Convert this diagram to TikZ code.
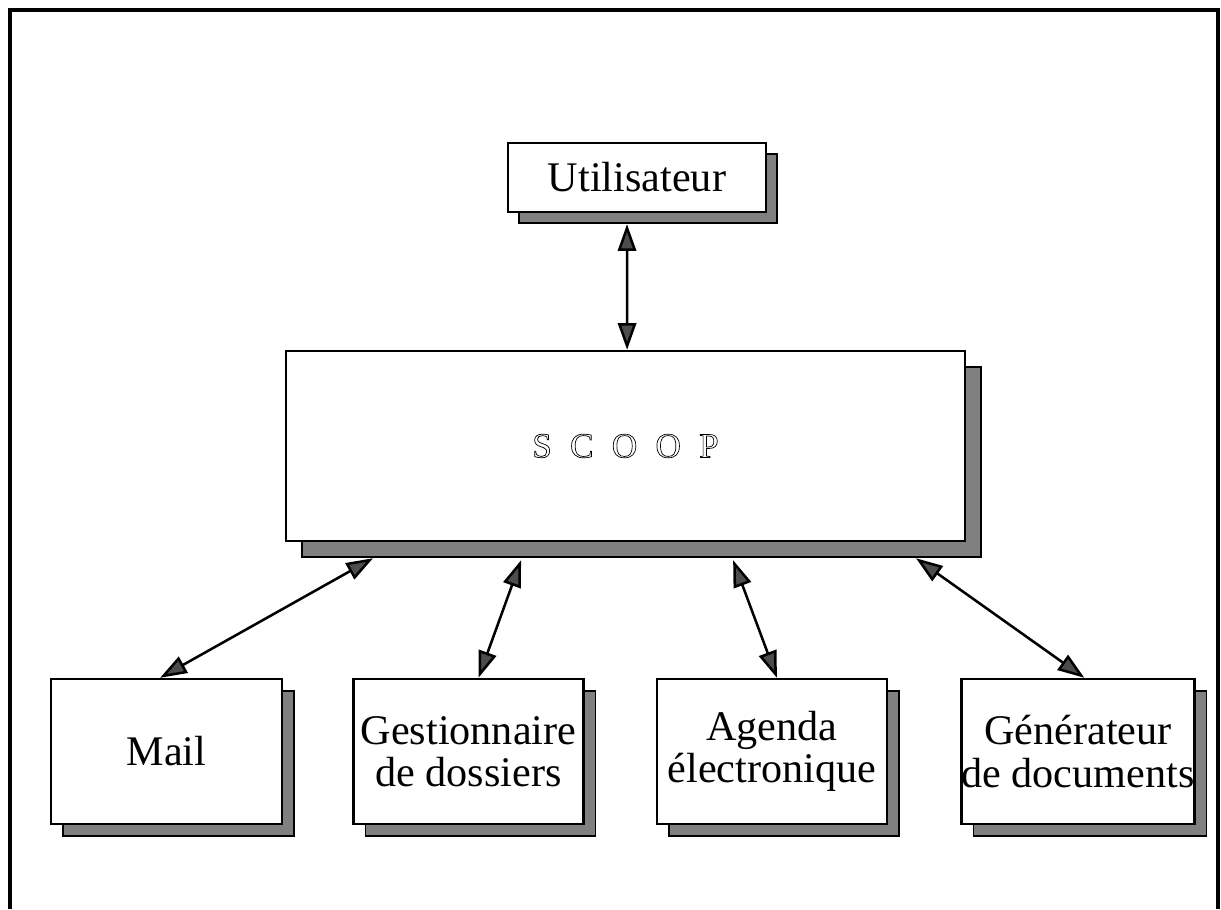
\documentclass[tikz,border=0pt]{standalone}
\usepackage{fontspec}
\setmainfont{Liberation Serif}
\usepackage{tikz}
\usetikzlibrary{arrows.meta,positioning,calc,shadows}

\newcommand{\hollow}[1]{\special{pdf:literal 1 Tr 0.5 w}#1\special{pdf:literal 0 Tr}}

\begin{document}
\begin{tikzpicture}[x=0.025cm,y=-0.025cm,
  box/.style={draw,line width=1.7pt,fill=white,inner sep=0pt,align=center,
    font=\fontsize{30}{30}\selectfont},
  shade/.style={drop shadow={shadow xshift=#1,shadow yshift=-#1,fill=black!50,
    draw=black,line width=1pt,opacity=1}},
  link/.style={line width=1.8pt,{Triangle[length=19pt,width=13pt,fill=black!70]}-{Triangle[length=19pt,width=13pt,fill=black!70]}}]
\useasboundingbox (0,0) rectangle (1221,909);
\draw[line width=2.2pt] (10,909) -- (10,10) -- (1218,10) -- (1218,909);

\node[box,shade=0.275cm,minimum width=6.45cm,minimum height=1.725cm] (user) at (637,177.5) {Utilisateur};
\node[box,shade=0.4cm,minimum width=16.975cm,minimum height=4.75cm] (scoop) at (625.5,446)
  {\fontsize{25}{26}\selectfont\hollow{S\hspace{13pt}C\hspace{13pt}O\hspace{13pt}O\hspace{13pt}P}};

\node[box,shade=0.3cm,minimum width=5.775cm,minimum height=3.625cm] (mail) at (166.5,751.5) {Mail};
\node[box,shade=0.3cm,minimum width=5.75cm,minimum height=3.625cm,right=1.725cm of mail] (gest) {Gestionnaire\\de dossiers};
\node[box,shade=0.3cm,minimum width=5.75cm,minimum height=3.625cm,right=1.775cm of gest] (agenda) {Agenda\\\'electronique};
\node[box,shade=0.3cm,minimum width=5.75cm,minimum height=3.625cm,right=1.8cm of agenda] (gen) {G\'en\'erateur\\de documents};

\draw[link] ([shift={(-0.25cm,-0.275cm)}]user.south) -- ([xshift=0.04cm]scoop.north);
\draw[link] ([shift={(-6.31cm,-0.4cm)}]scoop.south) -- ([xshift=-0.16cm]mail.north);
\draw[link] ([shift={(-2.61cm,-0.45cm)}]scoop.south) -- ([xshift=0.25cm]gest.north);
\draw[link] ([shift={(2.69cm,-0.45cm)}]scoop.south) -- ([xshift=0.125cm]agenda.north);
\draw[link] ([shift={(7.26cm,-0.4cm)}]scoop.south) -- ([xshift=0.16cm]gen.north);
\end{tikzpicture}
\end{document}
